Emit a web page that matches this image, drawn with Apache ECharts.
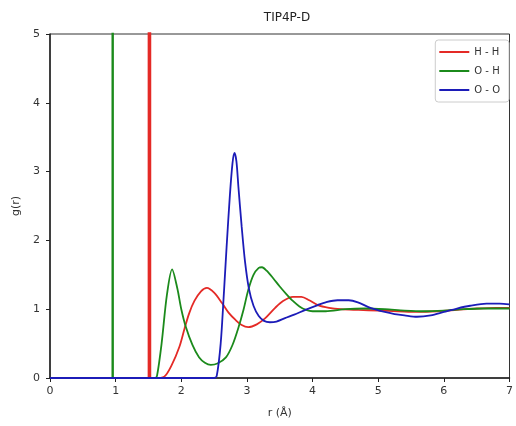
<!DOCTYPE html>
<html>
<head>
<meta charset="utf-8">
<script src="https://cdn.jsdelivr.net/npm/echarts@6/dist/echarts.min.js"></script>
<style>
  html, body { margin: 0; padding: 0; background: #fff; }
  #chart { width: 516px; height: 426px; }
</style>
</head>
<body>
<div id="chart"></div>
<script>
// g(r) curves for TIP4P-D
// intramolecular peaks (go far off the top of the plot)
const hhSpikeR = [1.515, 1.515];
const hhSpikeG = [0, 8];
const ohSpikeR = [0.955, 0.955];
const ohSpikeG = [0, 8];

// intermolecular part
const hhR = [0, 1.6, 1.74, 1.85, 1.97, 2.05, 2.12, 2.2, 2.3, 2.39, 2.5, 2.62, 2.72, 2.83, 2.92, 3.02, 3.15, 3.28, 3.43, 3.55, 3.7, 3.83, 3.95, 4.08, 4.25, 4.43, 4.7, 5.0, 5.3, 5.6, 5.9, 6.2, 6.5, 6.8, 7.0];
const hhG = [0, 0, 0.02, 0.18, 0.45, 0.72, 0.94, 1.12, 1.26, 1.31, 1.24, 1.09, 0.95, 0.84, 0.77, 0.74, 0.78, 0.87, 1.02, 1.12, 1.18, 1.18, 1.13, 1.06, 1.02, 1.0, 0.99, 0.98, 0.97, 0.96, 0.97, 0.99, 1.01, 1.02, 1.02];

const ohR = [0, 1.6, 1.63, 1.7, 1.78, 1.86, 1.94, 2.0, 2.07, 2.17, 2.27, 2.36, 2.45, 2.55, 2.68, 2.78, 2.87, 2.95, 3.02, 3.1, 3.18, 3.23, 3.3, 3.4, 3.5, 3.6, 3.7, 3.8, 3.9, 4.0, 4.2, 4.5, 4.8, 5.1, 5.4, 5.7, 6.0, 6.3, 6.6, 7.0];
const ohG = [0, 0, 0.03, 0.5, 1.2, 1.58, 1.3, 1.0, 0.74, 0.48, 0.3, 0.22, 0.19, 0.21, 0.3, 0.48, 0.73, 1.0, 1.28, 1.5, 1.6, 1.61, 1.56, 1.45, 1.33, 1.22, 1.12, 1.04, 0.99, 0.97, 0.97, 1.0, 1.01, 1.0, 0.98, 0.97, 0.98, 1.0, 1.01, 1.01];

const ooR = [0, 2.4, 2.5, 2.54, 2.6, 2.65, 2.69, 2.74, 2.78, 2.81, 2.84, 2.87, 2.92, 2.97, 3.03, 3.1, 3.18, 3.26, 3.35, 3.45, 3.58, 3.72, 3.89, 4.08, 4.2, 4.38, 4.55, 4.69, 4.88, 5.1, 5.25, 5.4, 5.59, 5.8, 6.0, 6.2, 6.4, 6.65, 6.85, 7.0];
const ooG = [0, 0, 0, 0.03, 0.5, 1.25, 1.9, 2.65, 3.12, 3.27, 3.15, 2.78, 2.2, 1.7, 1.3, 1.05, 0.9, 0.83, 0.81, 0.82, 0.87, 0.92, 0.99, 1.06, 1.1, 1.13, 1.13, 1.1, 1.02, 0.96, 0.93, 0.91, 0.89, 0.91, 0.96, 1.01, 1.05, 1.08, 1.08, 1.07];

const xTicks = [0, 1, 2, 3, 4, 5, 6, 7];
const yTicks = [0, 1, 2, 3, 4, 5];

const pairs = (rs, gs) => rs.map((r, i) => [r, gs[i]]);

const RED = "#e42a26";
const GREEN = "#1b8a1b";
const BLUE = "#1c1cb8";

const chart = echarts.init(document.getElementById("chart"));

// spikes are drawn straight, the rest smoothed; same name -> one legend entry
const seriesDefs = [
  { name: "H - H", data: pairs(hhR, hhG), color: RED, smooth: 0.3, width: 1.8 },
  { name: "H - H", data: pairs(hhSpikeR, hhSpikeG), color: RED, smooth: false, width: 3.6 },
  { name: "O - H", data: pairs(ohR, ohG), color: GREEN, smooth: 0.3, width: 1.8 },
  { name: "O - H", data: pairs(ohSpikeR, ohSpikeG), color: GREEN, smooth: false, width: 2.4 },
  { name: "O - O", data: pairs(ooR, ooG), color: BLUE, smooth: 0.3, width: 1.8 }
];

const axisText = { color: "#333", fontSize: 11, fontFamily: "DejaVu Sans" };

chart.setOption({
  animation: false,
  title: {
    text: "TIP4P-D",
    left: 282,
    top: 7,
    textAlign: "center",
    textStyle: { fontSize: 12, fontWeight: "normal", color: "#222", fontFamily: "DejaVu Sans" }
  },
  legend: {
    data: ["H - H", "O - H", "O - O"],
    orient: "vertical",
    right: 7,
    top: 40,
    icon: "rect",
    itemWidth: 30,
    itemHeight: 2,
    itemGap: 9,
    padding: [7, 9, 7, 4],
    borderColor: "#ccc",
    borderWidth: 1,
    borderRadius: 3,
    backgroundColor: "#fff",
    textStyle: { fontSize: 10, color: "#333", fontFamily: "DejaVu Sans" }
  },
  grid: {
    left: 50,
    right: 3,
    top: 34,
    bottom: 48,
    show: true,
    borderColor: "#333",
    borderWidth: 1
  },
  xAxis: {
    type: "value",
    min: xTicks[0],
    max: xTicks[xTicks.length - 1],
    interval: 1,
    name: "r (Å)",
    nameLocation: "middle",
    nameGap: 30,
    nameTextStyle: { fontSize: 11, color: "#333", fontFamily: "DejaVu Sans" },
    axisLine: { lineStyle: { color: "#222", width: 1.5 } },
    axisTick: { show: true, length: 4, lineStyle: { color: "#222" } },
    axisLabel: Object.assign({ margin: 8 }, axisText),
    splitLine: { show: false }
  },
  yAxis: {
    type: "value",
    min: yTicks[0],
    max: yTicks[yTicks.length - 1],
    interval: 1,
    name: "g(r)",
    nameLocation: "middle",
    nameGap: 26,
    nameTextStyle: { fontSize: 11, color: "#333", fontFamily: "DejaVu Sans" },
    axisLine: { show: true, lineStyle: { color: "#222", width: 1.5 } },
    axisTick: { show: true, length: 4, lineStyle: { color: "#222" } },
    axisLabel: Object.assign({ margin: 10 }, axisText),
    splitLine: { show: false }
  },
  series: seriesDefs.map(s => ({
    name: s.name,
    type: "line",
    data: s.data,
    smooth: s.smooth,
    showSymbol: false,
    clip: true,
    color: s.color,
    lineStyle: { color: s.color, width: s.width }
  }))
});
</script>
</body>
</html>
